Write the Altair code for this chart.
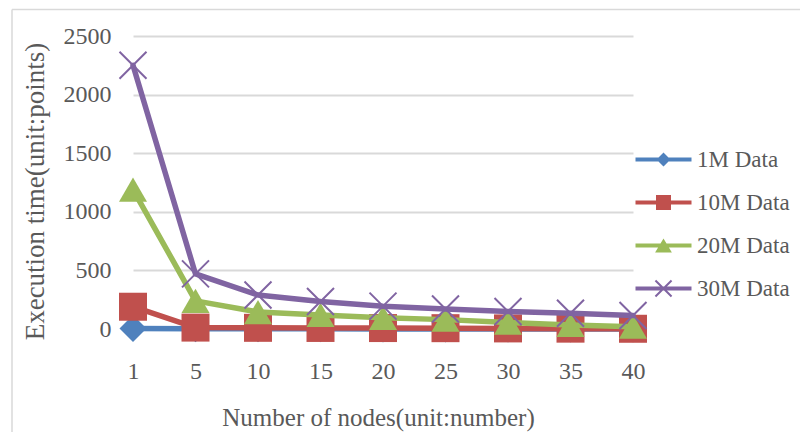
import altair as alt
import pandas as pd

# ---- data ----
nodes = ["1", "5", "10", "15", "20", "25", "30", "35", "40"]
series = ["1M Data", "10M Data", "20M Data", "30M Data"]
d1 = [5, 3, 2, 2, 1, 1, 1, 1, 1]
d10 = [190, 12, 10, 9, 8, 7, 5, 3, 2]
d20 = [1190, 240, 145, 120, 95, 80, 55, 35, 20]
d30 = [2250, 470, 290, 235, 195, 170, 150, 135, 115]
colors = ["#4F81BD", "#C0504D", "#9BBB59", "#8064A2"]
y_ticks = [0, 500, 1000, 1500, 2000, 2500]

rows = []
for s, vals in zip(series, [d1, d10, d20, d30]):
    for n, v in zip(nodes, vals):
        rows.append({"series": s, "nodes": n, "time": v})
df = pd.DataFrame(rows)

FONT = "Liberation Serif"
TXT = "#595959"
GRID = "#d9d9d9"

x_enc = alt.X(
    "nodes:O", sort=nodes,
    scale=alt.Scale(type="point", padding=0),
    axis=alt.Axis(
        title="Number of nodes(unit:number)", labelAngle=0, ticks=False, tickSize=0,
        domain=False, grid=False, labelPadding=30, labelFont=FONT, labelFontSize=24,
        labelColor=TXT, titleFont=FONT, titleFontSize=25, titleColor=TXT,
        titleFontWeight="normal", titleX=245, titleY=88, titleBaseline="middle",
    ),
)
y_enc = alt.Y(
    "time:Q",
    scale=alt.Scale(domain=[0, 2500], nice=False),
    axis=alt.Axis(
        values=y_ticks, format="d", title="Execution time(unit:points)", grid=True,
        gridColor=GRID, gridWidth=2, domain=False, ticks=False, tickSize=0,
        labelPadding=22, labelFont=FONT, labelFontSize=24, labelColor=TXT,
        titleFont=FONT, titleFontSize=27, titleColor=TXT, titleFontWeight="normal",
        titleX=-98, titleY=155, titleBaseline="middle",
    ),
)

# marker shapes used on the plot
marker_shapes = ["diamond", "square", "triangle-up", "M-1,-1L1,1M-1,1L1,-1"]
marker_sizes = [729, 784, 784, 729]

# legend symbols: line segment with marker (custom paths, unit = 7px)
line_p = "M-4,-0.3L4,-0.3L4,0.3L-4,0.3Z"
legend_paths = [
    line_p + "M-1,0L0,-1L1,0L0,1Z",
    line_p + "M-1.07,-1.07L1.07,-1.07L1.07,1.07L-1.07,1.07Z",
    line_p + "M0,-1L1.2,1L-1.2,1Z",
    line_p + "M-1.25,-1.05L-1.05,-1.25L1.25,1.05L1.05,1.25Z"
           + "M1.25,-1.05L-1.05,1.25L-1.25,1.05L1.05,-1.25Z",
]

layers = []
# chart border (left and top)
border = pd.DataFrame({"k": [0]})
layers.append(alt.Chart(border).mark_rule(color=GRID, strokeWidth=1.5).encode(
    x=alt.value(-121), y=alt.value(-26.5), y2=alt.value(420)))
layers.append(alt.Chart(border).mark_rule(color=GRID, strokeWidth=1.5).encode(
    x=alt.value(-121), x2=alt.value(700), y=alt.value(-26.5)))

for i, s in enumerate(series):
    base = alt.Chart(df).transform_filter(alt.datum.series == s)
    layers.append(base.mark_line(color=colors[i], strokeWidth=5.5, strokeJoin="round",
                                 strokeCap="round").encode(x=x_enc, y=y_enc))
    if i == 3:
        pts = base.mark_point(filled=False, shape=marker_shapes[i], size=marker_sizes[i],
                              color=colors[i], strokeWidth=2, opacity=1)
    else:
        pts = base.mark_point(filled=True, shape=marker_shapes[i], size=marker_sizes[i],
                              color=colors[i], opacity=1, strokeWidth=0)
    layers.append(pts.encode(x=x_enc, y=y_enc))

leg = alt.Legend(
    orient="none", legendX=519, legendY=112, title=None, symbolSize=196,
    symbolStrokeWidth=0, labelOffset=22, labelFont=FONT, labelFontSize=23,
    labelColor=TXT, rowPadding=19, padding=0, symbolOpacity=1, labelLimit=300,
)
layers.append(
    alt.Chart(df).transform_filter("datum.series == 'none'").mark_point(filled=True, opacity=1)
    .encode(
        x=x_enc, y=y_enc,
        color=alt.Color("series:N", scale=alt.Scale(domain=series, range=colors), legend=leg),
        shape=alt.Shape("series:N", scale=alt.Scale(domain=series, range=legend_paths), legend=leg),
    )
)

chart = alt.layer(*layers).properties(
    width=500, height=293,
    padding={"left": 125, "top": 28, "right": 167, "bottom": 103},
    autosize=alt.AutoSizeParams(type="none"),
    background="white",
).configure(font=FONT).configure_view(stroke=None)

chart.save("out.html", embed_options={"renderer": "svg", "actions": False})
